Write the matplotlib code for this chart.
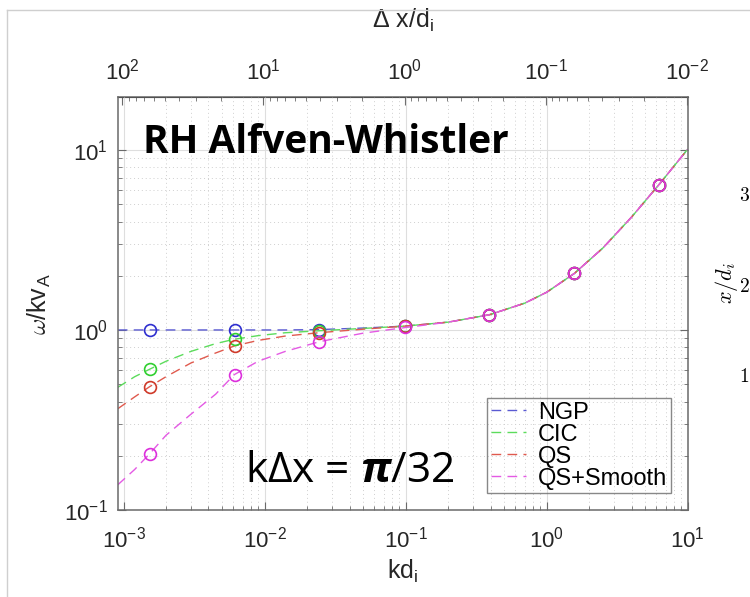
import numpy as np
import matplotlib
matplotlib.use('Agg')
import matplotlib.pyplot as plt
from matplotlib.lines import Line2D
from matplotlib.ticker import FixedLocator

##===========================================
# Dispersion of the RH Alfven-Whistler mode, k*dx = pi/32
##===========================================

# simulated points (one per grid spacing)
kd_sim = [0.00153, 0.00614, 0.0245, 0.0982, 0.393, 1.57, 6.28]
ngp_sim = [1.0, 1.0, 1.0, 1.05, 1.215, 2.07, 6.4]
cic_sim = [0.605, 0.888, 0.99, 1.05, 1.215, 2.07, 6.4]
qs_sim = [0.484, 0.815, 0.966, 1.05, 1.215, 2.07, 6.4]
qss_sim = [0.205, 0.565, 0.861, 1.04, 1.215, 2.07, 6.4]

# dashed curves
kd_line = [0.00091, 0.0012, 0.00153, 0.002, 0.003, 0.0045, 0.0061, 0.009,
           0.014, 0.0245, 0.05, 0.098, 0.2, 0.393, 0.7, 1.0, 1.57, 2.5,
           4.0, 6.28, 10.0]
ngp_line = [1.0, 1.0, 1.0, 1.0, 1.0, 1.0, 1.0, 1.0, 1.0, 1.005, 1.025, 1.05,
            1.105, 1.215, 1.41, 1.62, 2.06, 2.85, 4.24, 6.44, 10.1]
cic_line = [0.48, 0.55, 0.605, 0.67, 0.76, 0.84, 0.888, 0.93, 0.965, 0.99,
            1.02, 1.05, 1.105, 1.215, 1.41, 1.62, 2.06, 2.85, 4.24, 6.44, 10.1]
qs_line = [0.365, 0.425, 0.484, 0.55, 0.655, 0.745, 0.815, 0.875, 0.925,
           0.966, 1.01, 1.05, 1.105, 1.215, 1.41, 1.62, 2.06, 2.85, 4.24,
           6.44, 10.1]
qss_line = [0.138, 0.168, 0.205, 0.26, 0.34, 0.44, 0.565, 0.67, 0.76, 0.861,
            0.96, 1.03, 1.105, 1.215, 1.41, 1.62, 2.06, 2.85, 4.24, 6.44, 10.1]

dx_ticks = [1e2, 1e1, 1e0, 1e-1, 1e-2]

labels = ['NGP', 'CIC', 'QS', 'QS+Smooth']
line_cols = ['#5a5ad2', '#5cdc5c', '#e05a4e', '#e45ae4']
mark_cols = ['#2f2fcf', '#2fcf2f', '#cf3a2a', '#dc2fdc']

plt.rcParams['font.family'] = ['Liberation Sans', 'DejaVu Sans']
plt.rcParams['mathtext.fontset'] = 'custom'
plt.rcParams['mathtext.rm'] = 'Liberation Sans'
plt.rcParams['mathtext.it'] = 'Liberation Sans:italic'
plt.rcParams['mathtext.bf'] = 'Open Sans:italic:bold'

fig = plt.figure(figsize=(7.5, 5.97), dpi=100)
ax = fig.add_axes([0.157, 0.1457, 0.76, 0.692])

curves = [ngp_line, cic_line, qs_line, qss_line]
points = [ngp_sim, cic_sim, qs_sim, qss_sim]
for i in range(4):
    ax.plot(kd_line, curves[i], color=line_cols[i], lw=1.0,
            dashes=(7, 4.5), label=labels[i])
for i in range(4):
    ax.plot(kd_sim, points[i], 'o', mfc='none', mec=mark_cols[i],
            ms=8.5, mew=1.2)

ax.set_xscale('log')
ax.set_yscale('log')
ax.set_xlim(0.00091, 10)
ax.set_ylim(0.1, 19.7)

ax.grid(which='major', color='#dedede', lw=0.8, ls='-')
ax.grid(which='minor', color='#cfcfcf', lw=0.7, ls=(0, (1, 3)))
ax.set_axisbelow(True)
for s in ax.spines.values():
    s.set_color('#6a6a6a')
    s.set_linewidth(1.1)

ax.tick_params(which='both', direction='in', top=False, right=True,
               colors='#6a6a6a', labelcolor='#262626', labelsize=16)
ax.tick_params(which='major', length=6)
ax.tick_params(axis='x', which='major', pad=12)
ax.tick_params(axis='y', which='major', pad=7)
ax.tick_params(which='minor', length=3)

ax.set_xlabel('kd$_\\mathregular{i}$', fontsize=18, color='#262626', labelpad=4)
ax.set_ylabel('$\\omega$/kv$_\\mathregular{A}$', fontsize=18, color='#262626',
              labelpad=8, math_fontfamily='cm')

# top axis in grid spacing
def kd_to_dx(kd):
    return (np.pi / 32) / np.asarray(kd, dtype=float)

sec = ax.secondary_xaxis('top', functions=(kd_to_dx, kd_to_dx))
sec.xaxis.set_major_locator(FixedLocator(dx_ticks))
sec.tick_params(which='both', direction='in', colors='#6a6a6a',
                labelcolor='#262626', labelsize=16)
sec.tick_params(which='major', length=6, pad=9)
sec.tick_params(which='minor', length=3)
sec.set_xlabel('$\\Delta$ x/d$_\\mathregular{i}$', fontsize=18,
               color='#262626', labelpad=22)

leg = ax.legend(loc='lower right', bbox_to_anchor=(0.97, 0.041),
                borderaxespad=0, fontsize=17, handlelength=1.5,
                handletextpad=0.5, labelspacing=0.0, borderpad=0.15,
                fancybox=False, facecolor='none', edgecolor='#6a6a6a')
leg.get_frame().set_linewidth(1.0)

ax.text(0.045, 0.865, 'RH Alfven-Whistler', transform=ax.transAxes,
        fontsize=28, fontweight='bold', family='Open Sans', color='black')
ax.text(0.224, 0.068, 'k\u0394x = $\\mathbf{\\pi}$/32', transform=ax.transAxes,
        fontsize=30.5, family='Open Sans', color='black')

# slide frame and the edge of the neighbouring panel
fig.add_artist(Line2D([7/750, 7/750], [0, 1 - 10/597], color='#cfcfcf',
                      lw=1.0, transform=fig.transFigure))
fig.add_artist(Line2D([7/750, 1], [1 - 10/597, 1 - 10/597], color='#cfcfcf',
                      lw=1.0, transform=fig.transFigure))
for yy, tt in [(196, '$3$'), (287, '$2$'), (377, '$1$')]:
    fig.text(739/750, 1 - yy/597, tt, fontsize=14, math_fontfamily='cm',
             va='center', ha='left')
fig.text(727/750, 1 - 283/597, '$x/d_i$', fontsize=16, math_fontfamily='cm',
         va='center', ha='center', rotation=90)

plt.savefig('out.png', dpi=100)
